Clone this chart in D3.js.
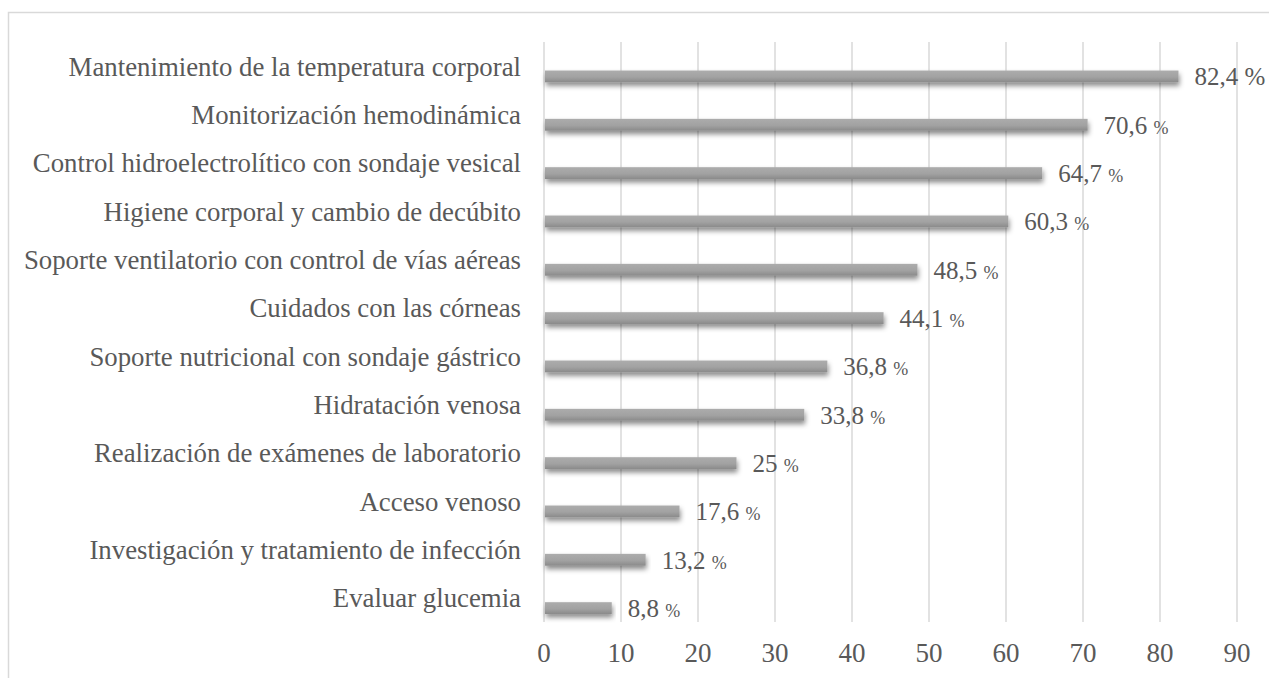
<!DOCTYPE html>
<html>
<head>
<meta charset="utf-8">
<script src="https://cdn.jsdelivr.net/npm/d3@7"></script>
<style>
  body { margin: 0; background: #fff; }
  text { font-family: "Liberation Serif", "Times New Roman", serif; fill: #595959; }
</style>
</head>
<body>
<div id="chart"></div>
<script>
// categories, top to bottom
const categories = [
  'Mantenimiento de la temperatura corporal',
  'Monitorización hemodinámica',
  'Control hidroelectrolítico con sondaje vesical',
  'Higiene corporal y cambio de decúbito',
  'Soporte ventilatorio con control de vías aéreas',
  'Cuidados con las córneas',
  'Soporte nutricional con sondaje gástrico',
  'Hidratación venosa',
  'Realización de exámenes de laboratorio',
  'Acceso venoso',
  'Investigación y tratamiento de infección',
  'Evaluar glucemia'
];
const values = [82.4, 70.6, 64.7, 60.3, 48.5, 44.1, 36.8, 33.8, 25, 17.6, 13.2, 8.8];
const xTicks = [0, 10, 20, 30, 40, 50, 60, 70, 80, 90];

const config = {
  width: 1269, height: 678,
  left: 544, right: 1237, top: 42, bottom: 622
};

const vis = {};
vis.svg = d3.select('#chart').append('svg')
  .attr('width', config.width)
  .attr('height', config.height);

const defs = vis.svg.append('defs');
const grad = defs.append('linearGradient')
  .attr('id', 'barGrad').attr('x1', 0).attr('y1', 0).attr('x2', 0).attr('y2', 1);
grad.append('stop').attr('offset', '0%').attr('stop-color', '#acacac');
grad.append('stop').attr('offset', '55%').attr('stop-color', '#a2a2a2');
grad.append('stop').attr('offset', '100%').attr('stop-color', '#8a8a8a');
const shadow = defs.append('filter').attr('id', 'shadow')
  .attr('x', '-5%').attr('y', '-50%').attr('width', '110%').attr('height', '260%');
shadow.append('feDropShadow')
  .attr('dx', 1).attr('dy', 3.5).attr('stdDeviation', 2.5)
  .attr('flood-color', '#000').attr('flood-opacity', 0.45);

// outer frame
vis.svg.append('rect')
  .attr('x', 8.5).attr('y', 12.5)
  .attr('width', config.width + 20).attr('height', config.height + 20)
  .attr('fill', 'none').attr('stroke', '#d9d9d9').attr('stroke-width', 1.5);

// scales
vis.scaleX = d3.scaleLinear().domain([0, 90]).range([config.left, config.right]);
vis.scaleY = d3.scaleBand().domain(categories).range([config.top, config.bottom]).padding(0);
const bw = vis.scaleY.bandwidth();

// gridlines
vis.svg.append('g').selectAll('line')
  .data(xTicks)
  .join('line')
  .attr('x1', d => vis.scaleX(d)).attr('x2', d => vis.scaleX(d))
  .attr('y1', config.top).attr('y2', config.bottom)
  .attr('stroke', '#d9d9d9').attr('stroke-width', 1.5);

// x tick labels
vis.svg.append('g').selectAll('text')
  .data(xTicks)
  .join('text')
  .attr('x', d => vis.scaleX(d))
  .attr('y', config.bottom + 40)
  .attr('text-anchor', 'middle')
  .style('font-size', '27px')
  .text(d => d);

// bars
const rows = categories.map((c, i) => ({ cat: c, value: values[i], i }));
vis.svg.append('g').selectAll('rect')
  .data(rows)
  .join('rect')
  .attr('x', vis.scaleX(0) + 1)
  .attr('y', d => vis.scaleY(d.cat) + bw * 0.59)
  .attr('width', d => vis.scaleX(d.value) - vis.scaleX(0) - 1)
  .attr('height', bw * 0.245)
  .attr('fill', 'url(#barGrad)')
  .attr('filter', 'url(#shadow)');

// category labels
vis.svg.append('g').selectAll('text')
  .data(rows)
  .join('text')
  .attr('x', 521)
  .attr('y', d => vis.scaleY(d.cat) + bw / 2)
  .attr('dy', '0.35em')
  .attr('text-anchor', 'end')
  .style('font-size', '26.8px')
  .text(d => d.cat);

// value labels: number plus a "%" (the first one full size)
const valLabels = vis.svg.append('g').selectAll('text')
  .data(rows)
  .join('text')
  .attr('x', d => vis.scaleX(d.value) + 16)
  .attr('y', d => vis.scaleY(d.cat) + bw * 0.59 + bw * 0.12)
  .attr('dy', '0.36em')
  .style('font-size', '25px');
valLabels.append('tspan')
  .text(d => String(d.value).replace('.', ',') + ' ');
valLabels.append('tspan')
  .style('font-size', d => d.i === 0 ? '25px' : '18px')
  .text('%');
</script>
</body>
</html>
